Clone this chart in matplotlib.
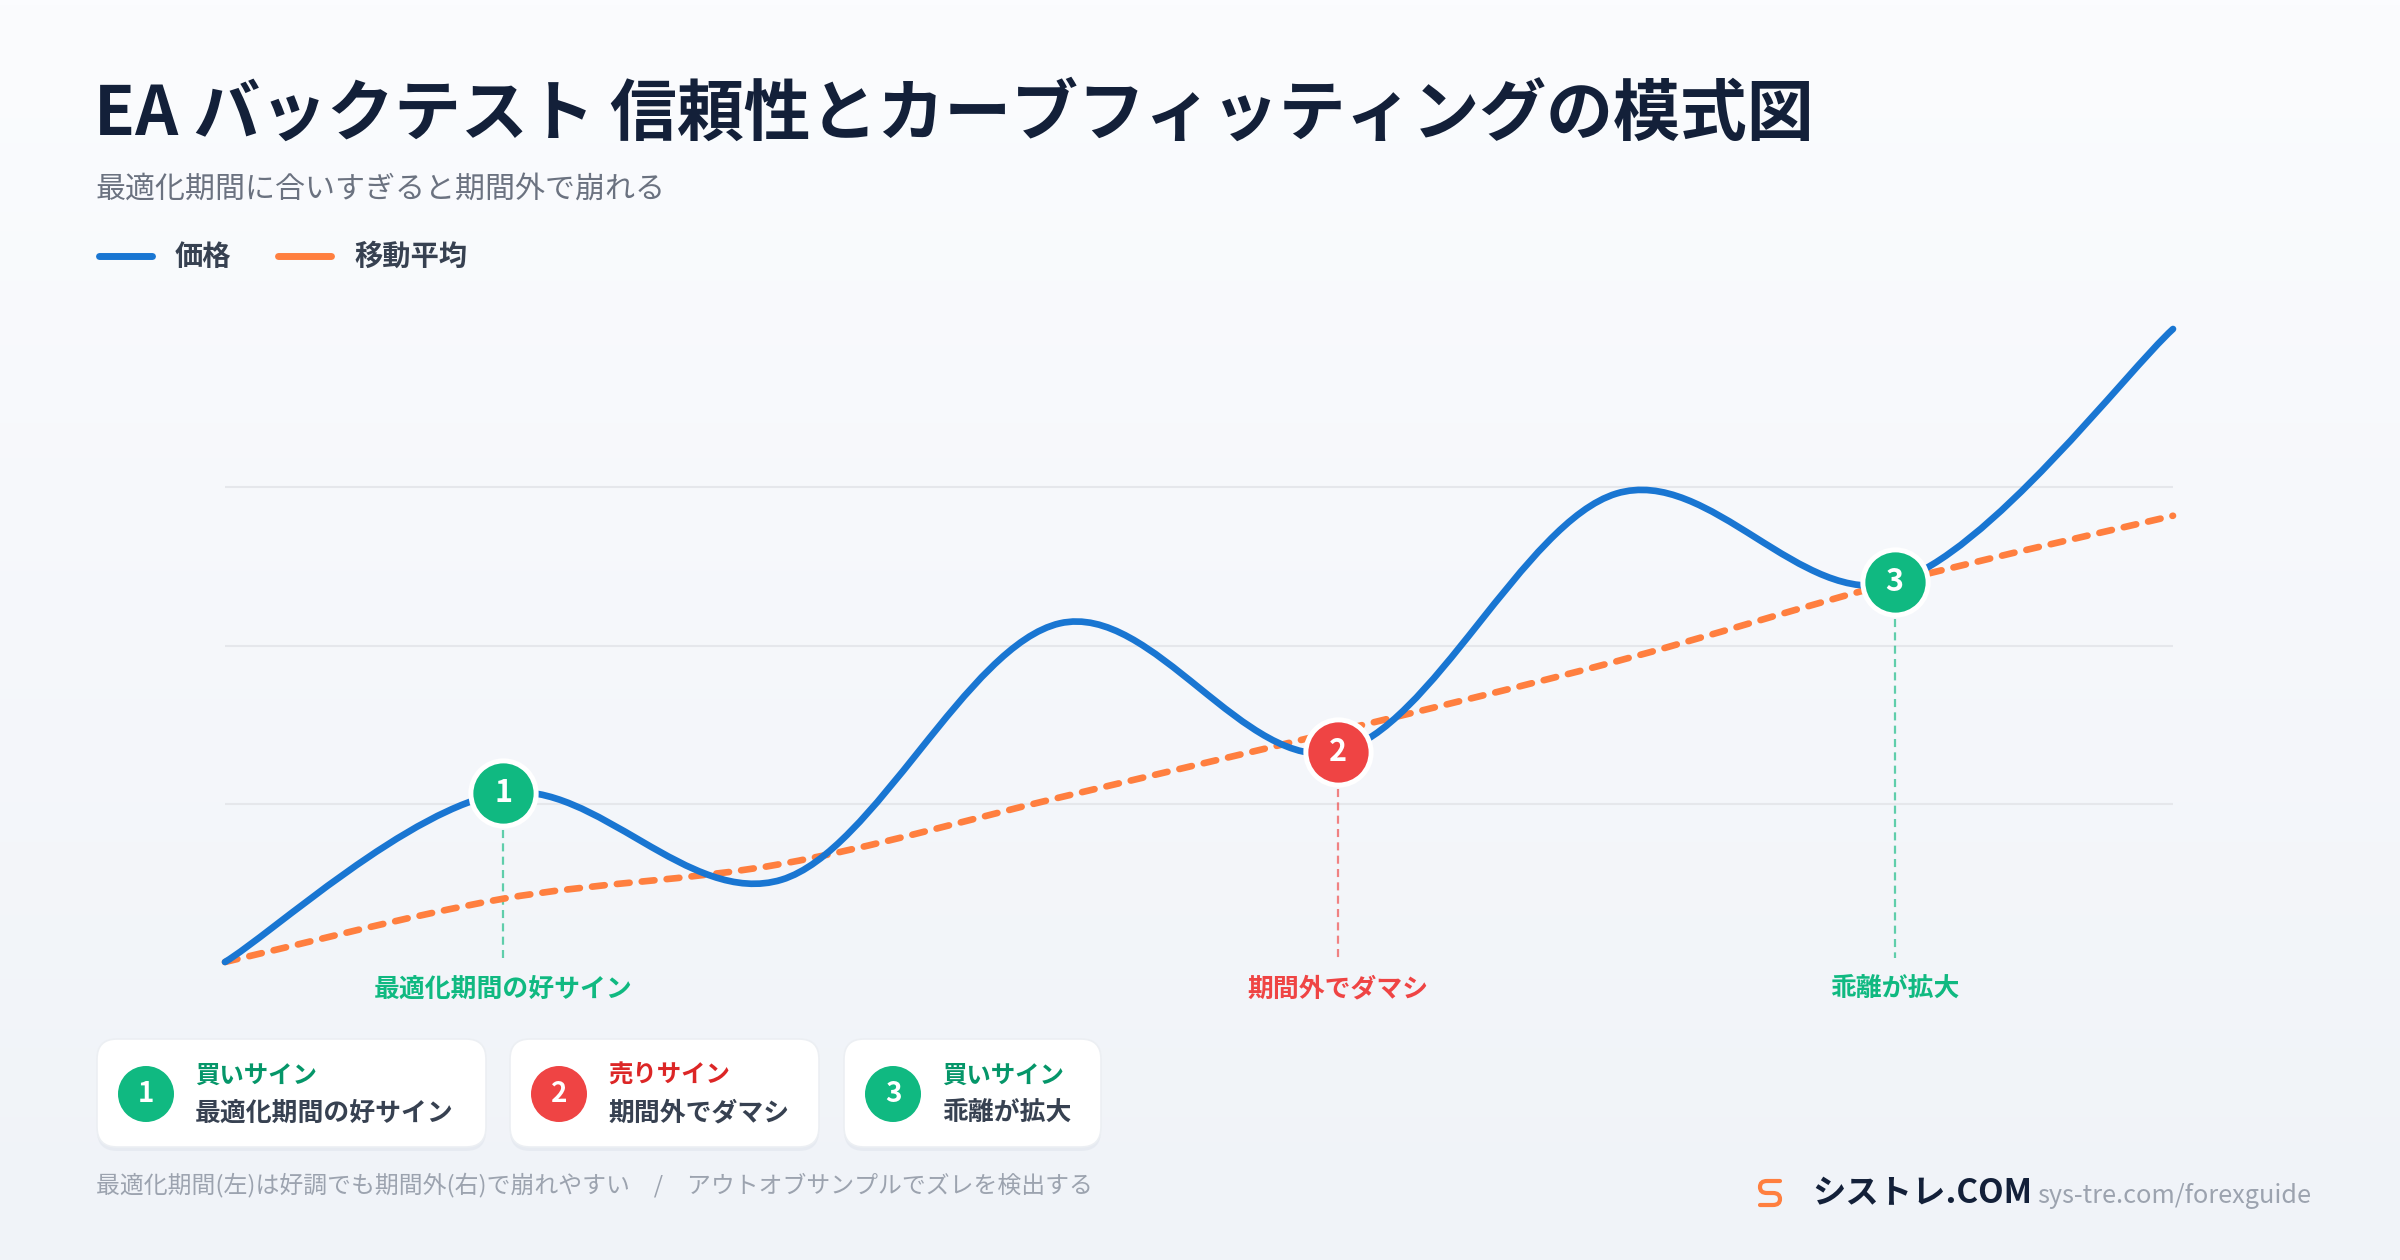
import numpy as np
import matplotlib
matplotlib.use("Agg")
import matplotlib.pyplot as plt
from matplotlib.colors import to_rgb
from matplotlib.path import Path
from matplotlib.patches import PathPatch, FancyBboxPatch, Circle

plt.rcParams["font.family"] = ["Noto Sans CJK JP", "DejaVu Sans"]
plt.rcParams["lines.scale_dashes"] = False

# ---- data ----
title = "EA バックテスト 信頼性とカーブフィッティングの模式図"
subtitle = "最適化期間に合いすぎると期間外で崩れる"
series_names = ["価格", "移動平均"]
steps = [0, 1, 2, 3, 4, 5, 6, 7]
price = [0, 26.7, 13.0, 53.5, 33.2, 74.0, 60.0, 100.0]
moving_avg = [0, 10.0, 15.5, 26.0, 36.5, 47.5, 60.0, 70.5]
grid_levels = [25, 50, 75]
signal_idx = [1, 4, 6]
signal_num = ["1", "2", "3"]
signal_kind = ["買いサイン", "売りサイン", "買いサイン"]
signal_note = ["最適化期間の好サイン", "期間外でダマシ", "乖離が拡大"]
signal_buy = [True, False, True]
footer = "最適化期間(左)は好調でも期間外(右)で崩れやすい　/　アウトオブサンプルでズレを検出する"
brand = "シストレ.COM"
url = "sys-tre.com/forexguide"

BLUE = "#1976d2"
ORANGE = "#ff7f3f"
GREEN = "#10b981"
RED = "#ef4444"
NAVY = "#132039"
GRAY = "#6b7280"
LIGHT = "#9ca3af"
TEXT = "#374151"


def smooth_path(xs, ys):
    # catmull-rom style bezier through the points
    pts = np.column_stack([xs, ys]).astype(float)
    ext = np.vstack([pts[0], pts, pts[-1]])
    verts = [pts[0]]
    codes = [Path.MOVETO]
    for i in range(len(pts) - 1):
        p0, p1, p2, p3 = ext[i], ext[i + 1], ext[i + 2], ext[i + 3]
        verts += [p1 + (p2 - p0) / 6, p2 - (p3 - p1) / 6, p2]
        codes += [Path.CURVE4] * 3
    return Path(verts, codes)


fig = plt.figure(figsize=(12, 6.3), dpi=200)

# background gradient
bg = fig.add_axes([0, 0, 1, 1], zorder=0)
top, bot = np.array(to_rgb("#fbfcfe")), np.array(to_rgb("#f0f3f8"))
t = np.linspace(0, 1, 256)[:, None, None]
bg.imshow(top + (bot - top) * t, aspect="auto", extent=[0, 1, 0, 1])
bg.axis("off")

# chart
ax = fig.add_axes([225 / 2400, 1 - 962 / 1260, 1948 / 2400, 633 / 1260], zorder=1)
ax.set_xlim(0, 7)
ax.set_ylim(0, 100)
ax.axis("off")
for g in grid_levels:
    ax.axhline(g, color="#e5e7eb", lw=0.75, zorder=1)

ax.add_patch(PathPatch(smooth_path(steps, moving_avg), fill=False, edgecolor=ORANGE,
                       lw=2.4, linestyle=(0, (4.6, 4.4)), capstyle="round",
                       clip_on=False, zorder=3))
ax.add_patch(PathPatch(smooth_path(steps, price), fill=False, edgecolor=BLUE,
                       lw=2.4, capstyle="round", joinstyle="round",
                       clip_on=False, zorder=4))

for i, n, note, buy in zip(signal_idx, signal_num, signal_note, signal_buy):
    c = GREEN if buy else RED
    x, y = steps[i], price[i]
    ax.plot([x, x], [y - 5.8, 0.6], color=c, alpha=0.65, lw=0.8,
            linestyle=(0, (2.9, 1.9)), clip_on=False, zorder=2)
    ax.plot([x], [y], marker="o", ms=23.5, mfc=c, mec="white", mew=1.8,
            clip_on=False, zorder=6)
    ax.text(x, y, n, color="white", fontsize=11, fontweight="bold",
            ha="center", va="center", zorder=7)
    ax.text(x, -4.3, note, color=c, fontsize=9.3, fontweight="bold",
            ha="center", va="center", clip_on=False)

# overlay in pixel units
ov = fig.add_axes([0, 0, 1, 1], zorder=2)
ov.set_xlim(0, 2400)
ov.set_ylim(1260, 0)
ov.axis("off")
ov.patch.set_alpha(0)

ov.text(94, 115, title, fontsize=24.1, fontweight="bold", color=NAVY, va="center")
ov.text(96, 189, subtitle, fontsize=10.8, color=GRAY, va="center")

for (x0, x1, tx), name, c in zip([(99, 152, 175), (278, 331, 354)], series_names,
                                 [BLUE, ORANGE]):
    ov.plot([x0, x1], [256, 256], color=c, lw=2.5, solid_capstyle="round")
    ov.text(tx, 257, name, fontsize=10.2, fontweight="bold", color=TEXT, va="center")

# signal cards
cards = [(97, 486), (510, 819), (844, 1101)]
for (x0, x1), n, kind, note, buy in zip(cards, signal_num, signal_kind,
                                        signal_note, signal_buy):
    c = GREEN if buy else RED
    kc = "#059669" if buy else "#dc2626"
    ov.add_patch(FancyBboxPatch((x0, 1043), x1 - x0, 108,
                                boxstyle="round,pad=0,rounding_size=20",
                                fc="#dfe4ec", ec="none", alpha=0.55))
    ov.add_patch(FancyBboxPatch((x0, 1039), x1 - x0, 108,
                                boxstyle="round,pad=0,rounding_size=20",
                                fc="white", ec="#eceff3", lw=0.6))
    ov.add_patch(Circle((x0 + 49, 1094), 28, fc=c, ec="none"))
    ov.text(x0 + 49, 1094, n, color="white", fontsize=10, fontweight="bold",
            ha="center", va="center")
    ov.text(x0 + 98, 1076, kind, color=kc, fontsize=8.8, fontweight="bold", va="center")
    ov.text(x0 + 98, 1113, note, color=TEXT, fontsize=9.3, fontweight="bold", va="center")

ov.text(96, 1185, footer, fontsize=8.6, color=LIGHT, va="center")

# brand
logo = Path([(1780, 1181), (1767, 1181), (1760, 1181), (1760, 1187), (1760, 1193),
             (1767, 1193), (1773, 1193), (1780, 1193), (1780, 1199), (1780, 1205),
             (1773, 1205), (1760, 1205)],
            [Path.MOVETO, Path.LINETO, Path.CURVE3, Path.CURVE3, Path.CURVE3,
             Path.CURVE3, Path.LINETO, Path.CURVE3, Path.CURVE3, Path.CURVE3,
             Path.CURVE3, Path.LINETO])
ov.add_patch(PathPatch(logo, fill=False, ec=ORANGE, lw=1.5, capstyle="round"))
ov.text(1812, 1194, brand, fontsize=12, fontweight="bold", color=NAVY, va="center")
ov.text(2037, 1196, url, fontsize=9.1, color=LIGHT, va="center")

fig.savefig("out.png", dpi=200)
